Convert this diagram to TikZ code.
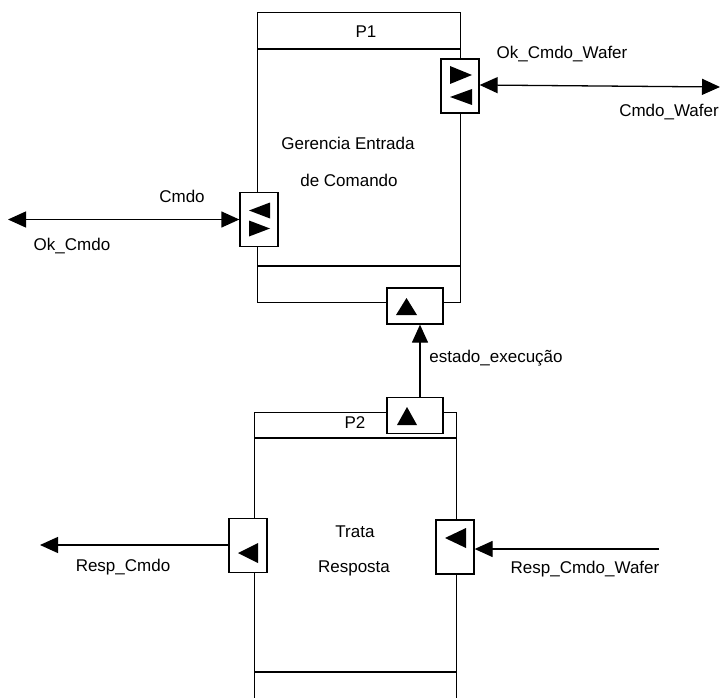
\documentclass[tikz,border=0pt]{standalone}
\usepackage{fontspec}
\setmainfont{Liberation Sans}
\usetikzlibrary{arrows.meta}
\begin{document}
\begin{tikzpicture}[x=1pt,y=-1pt,line width=1.3pt,
  proc/.style={draw,inner sep=0pt,anchor=north west},
  port/.style={draw,fill=white,minimum width=38pt,minimum height=54pt,inner sep=0pt},
  vport/.style={draw,fill=white,minimum width=56pt,minimum height=36pt,inner sep=0pt},
  lbl/.style={font=\fontsize{17}{20}\selectfont,inner sep=0pt},
  tip/.tip={Triangle[length=18pt,width=16pt]},
  flow/.style={-tip},
  biflow/.style={tip-tip}]
\clip (0,0) rectangle (725,698);
% process boxes
\node[proc,minimum width=203pt,minimum height=290pt] (P1) at (257,12) {};
\draw (257,49) -- (460,49);
\draw (257,266) -- (460,266);
\node[proc,minimum width=202pt,minimum height=300pt] (P2) at (254,412) {};
\draw (254,438) -- (456,438);
\draw (254,672) -- (456,672);
% ports
\node[port] (P1R) at (460,86) {};
\node[port] (P1L) at (259,219.5) {};
\node[vport] (P1B) at (415,306) {};
\node[vport] (P2T) at (415,415.5) {};
\node[port] (P2L) at (248,545.5) {};
\node[port] (P2R) at (455,547) {};
% port glyphs
\fill ([shift={(-10,-20)}]P1R.center) -- ([shift={(12,-11)}]P1R.center) -- ([shift={(-10,-2)}]P1R.center) -- cycle;
\fill ([shift={(12,3)}]P1R.center) -- ([shift={(-10,11)}]P1R.center) -- ([shift={(12,19)}]P1R.center) -- cycle;
\fill ([shift={(11,-17)}]P1L.center) -- ([shift={(-10,-9)}]P1L.center) -- ([shift={(11,-1)}]P1L.center) -- cycle;
\fill ([shift={(-10,1)}]P1L.center) -- ([shift={(11,9)}]P1L.center) -- ([shift={(-10,17)}]P1L.center) -- cycle;
\fill ([shift={(-19,9)}]P1B.center) -- ([shift={(-8.5,-8)}]P1B.center) -- ([shift={(2,9)}]P1B.center) -- cycle;
\fill ([shift={(-18,9.5)}]P2T.center) -- ([shift={(-8,-8.5)}]P2T.center) -- ([shift={(2,9.5)}]P2T.center) -- cycle;
\fill ([shift={(10,-2.5)}]P2L.center) -- ([shift={(-10,7.5)}]P2L.center) -- ([shift={(10,17.5)}]P2L.center) -- cycle;
\fill ([shift={(11,-19)}]P2R.center) -- ([shift={(-10,-9)}]P2R.center) -- ([shift={(11,1)}]P2R.center) -- cycle;
% free ends
\coordinate (cw) at (720,87);
\coordinate (cl) at (8,219.5);
\coordinate (rl) at (40,545);
\coordinate (rw) at (659,549);
% connectors
\draw[biflow] ([yshift=1pt]P1R.east) -- (cw);
\draw[biflow] (P1L.west) -- (cl);
\draw[flow] ([xshift=5pt]P2T.north) -- ([xshift=5pt]P1B.south);
\draw[flow] (P2L.west |- rl) -- (rl);
\draw[flow] (rw) -- (P2R.east |- rw);
% labels
\node[lbl] (tP1) at (366,32) {P1};
\node[lbl] (tG1) at (348,143) {Gerencia Entrada};
\node[lbl] (tG2) at (349,180) {de Comando};
\node[lbl] (tOkW) at (562,54) {Ok\_Cmdo\_Wafer};
\node[lbl] (tCW) at (669,112) {Cmdo\_Wafer};
\node[lbl] (tC) at (182,196) {Cmdo};
\node[lbl] (tOk) at (72,246) {Ok\_Cmdo};
\node[lbl] (tE) at (496,358) {estado\_execução};
\node[lbl] (tP2) at (355,423) {P2};
\node[lbl] (tT1) at (355,532) {Trata};
\node[lbl] (tT2) at (354,568) {Resposta};
\node[lbl] (tRC) at (123,567) {Resp\_Cmdo};
\node[lbl] (tRW) at (585,569) {Resp\_Cmdo\_Wafer};
\end{tikzpicture}
\end{document}
